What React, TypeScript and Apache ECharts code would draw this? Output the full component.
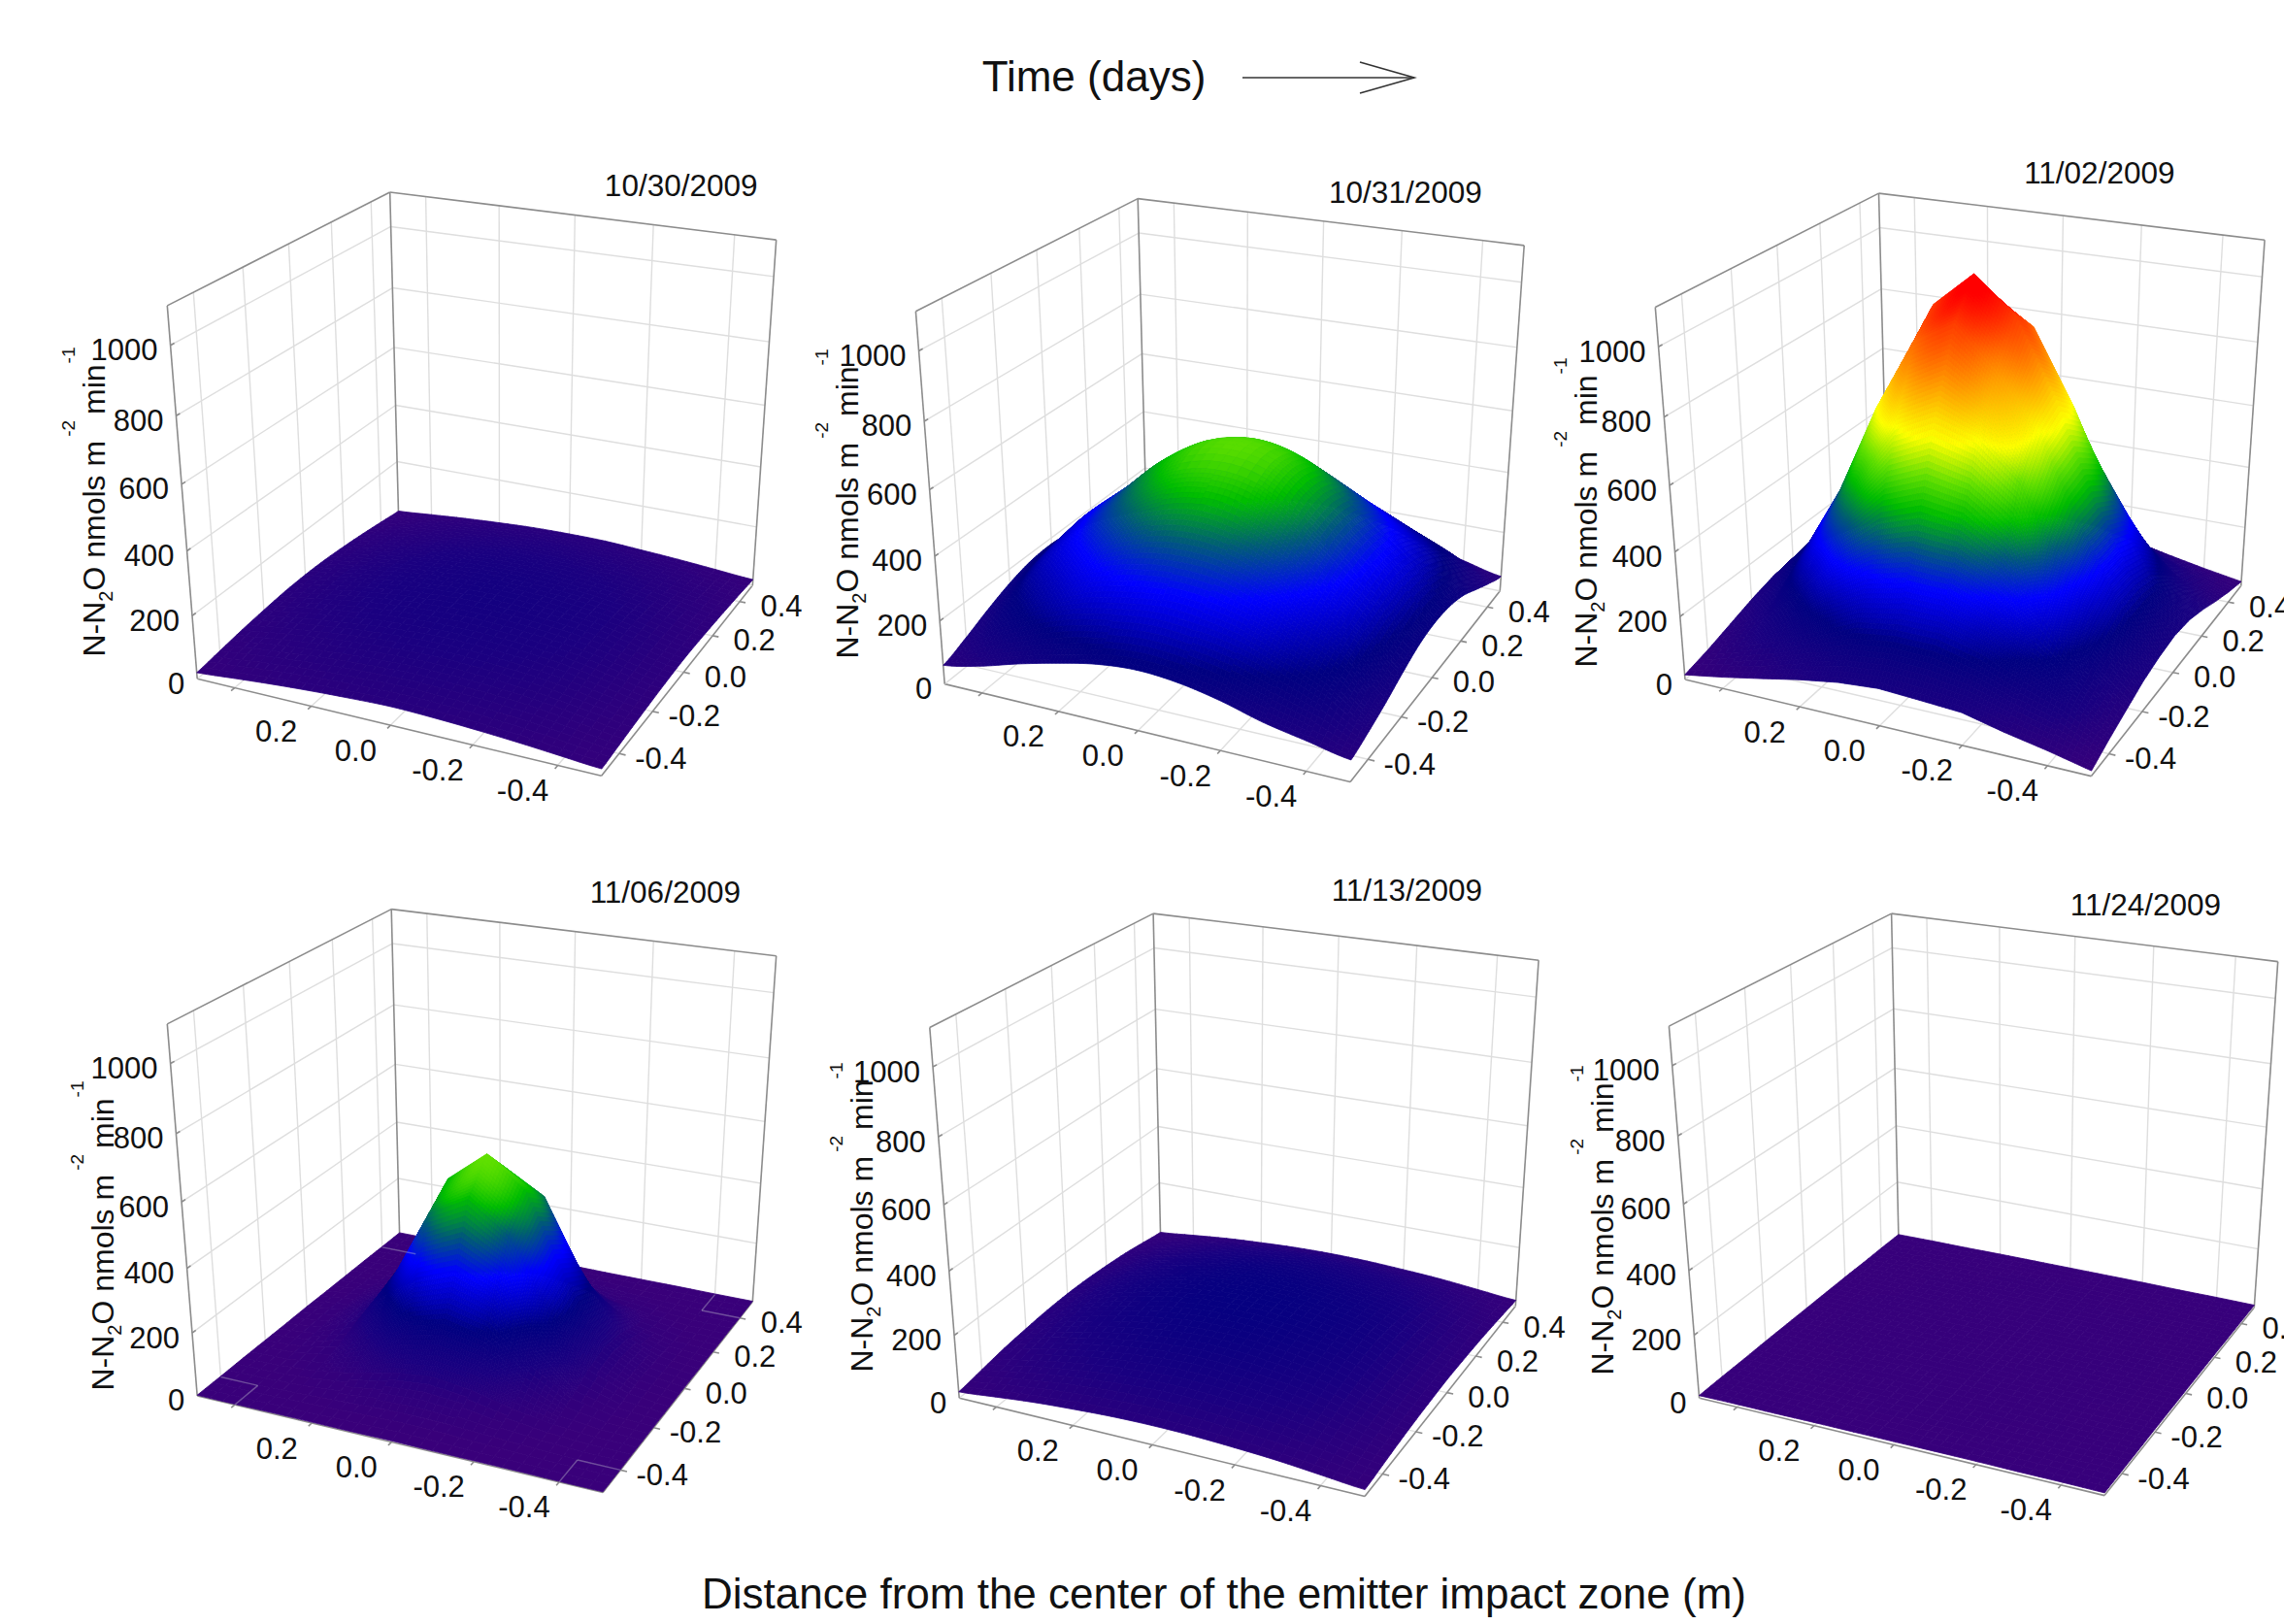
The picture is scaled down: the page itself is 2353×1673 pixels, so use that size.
import React, { useEffect, useRef } from "react";
import * as echarts from "echarts";

// ---------- data ----------
const dates = ["10/30/2009", "10/31/2009", "11/02/2009", "11/06/2009", "11/13/2009", "11/24/2009"];
const xTicks = [0.4, 0.2, 0.0, -0.2, -0.4];
const xLabels = [0.2, 0.0, -0.2, -0.4];
const yTicks = [-0.4, -0.2, 0.0, 0.2, 0.4];
const zTicks = [0, 200, 400, 600, 800, 1000];
const zMax = 1110;
// rows: x = 0.5 -> -0.5, columns: y = -0.5 -> 0.5, step 0.1
const surface1 = [
  [20, 30, 40, 48, 54, 56, 54, 48, 40, 30, 20],
  [30, 44, 56, 66, 72, 75, 72, 66, 56, 44, 30],
  [40, 56, 70, 82, 90, 93, 90, 82, 70, 56, 40],
  [48, 66, 82, 96, 105, 108, 105, 96, 82, 66, 48],
  [54, 72, 90, 105, 114, 118, 114, 105, 90, 72, 54],
  [58, 76, 94, 109, 119, 123, 119, 108, 93, 75, 56],
  [55, 73, 91, 106, 115, 119, 115, 105, 90, 72, 55],
  [49, 67, 83, 97, 106, 109, 106, 96, 82, 66, 48],
  [41, 57, 71, 83, 91, 94, 91, 82, 70, 56, 40],
  [31, 42, 52, 60, 66, 68, 66, 60, 52, 42, 30],
  [21, 27, 33, 38, 42, 44, 42, 38, 33, 27, 20],
];
const surface2 = [
  [60, 90, 125, 155, 175, 180, 170, 150, 120, 85, 55],
  [85, 160, 215, 260, 285, 300, 290, 265, 220, 165, 80],
  [120, 215, 280, 345, 385, 400, 390, 350, 285, 220, 115],
  [150, 260, 345, 420, 480, 510, 485, 425, 350, 265, 150],
  [175, 285, 385, 480, 555, 585, 560, 485, 390, 290, 175],
  [185, 300, 400, 505, 580, 610, 585, 510, 405, 300, 185],
  [175, 290, 390, 485, 560, 585, 560, 485, 390, 290, 175],
  [150, 265, 345, 425, 485, 505, 485, 425, 345, 260, 150],
  [115, 215, 280, 345, 385, 400, 385, 345, 280, 210, 110],
  [90, 160, 215, 255, 280, 295, 285, 255, 210, 155, 80],
  [65, 85, 110, 140, 165, 175, 170, 150, 115, 80, 50],
];
const surface3 = [
  [15, 35, 60, 85, 105, 115, 108, 85, 62, 36, 16],
  [36, 75, 115, 175, 230, 250, 232, 178, 118, 76, 38],
  [60, 118, 215, 350, 440, 480, 445, 352, 218, 120, 62],
  [85, 175, 350, 540, 710, 770, 715, 545, 352, 178, 85],
  [105, 230, 440, 710, 930, 1000, 935, 712, 442, 232, 108],
  [115, 250, 480, 770, 1000, 1105, 1005, 775, 485, 252, 118],
  [108, 250, 470, 730, 880, 1003, 930, 710, 440, 228, 112],
  [100, 215, 400, 620, 730, 772, 710, 540, 350, 175, 85],
  [70, 160, 290, 400, 470, 482, 440, 350, 215, 118, 60],
  [45, 115, 160, 215, 250, 252, 230, 175, 115, 75, 36],
  [16, 45, 70, 95, 110, 118, 110, 88, 60, 35, 15],
];
const surface4 = [
  [2, 2, 3, 3, 3, 4, 3, 3, 3, 2, 2],
  [2, 2, 5, 10, 17, 20, 17, 10, 5, 2, 2],
  [3, 5, 15, 35, 65, 80, 65, 35, 15, 5, 3],
  [3, 10, 35, 110, 230, 270, 230, 110, 35, 10, 3],
  [3, 17, 65, 230, 460, 520, 430, 230, 65, 17, 3],
  [4, 20, 80, 270, 525, 618, 530, 270, 80, 20, 4],
  [3, 17, 65, 235, 435, 520, 460, 230, 65, 17, 3],
  [3, 10, 35, 110, 235, 275, 230, 110, 35, 10, 3],
  [3, 5, 15, 35, 65, 80, 65, 35, 15, 5, 3],
  [2, 2, 5, 10, 17, 20, 17, 10, 5, 2, 2],
  [2, 2, 3, 3, 3, 4, 3, 3, 3, 2, 2],
];
const surface5 = [
  [20, 32, 44, 52, 58, 60, 58, 52, 44, 32, 20],
  [32, 52, 70, 84, 93, 97, 93, 84, 70, 52, 32],
  [44, 70, 92, 112, 124, 130, 124, 112, 92, 70, 44],
  [52, 84, 112, 134, 150, 156, 150, 134, 112, 84, 52],
  [58, 93, 124, 150, 166, 172, 166, 150, 124, 93, 58],
  [60, 97, 130, 156, 172, 178, 172, 156, 130, 97, 60],
  [58, 93, 124, 150, 166, 172, 166, 150, 124, 93, 58],
  [52, 84, 112, 134, 150, 156, 150, 134, 112, 84, 52],
  [44, 70, 92, 112, 124, 130, 124, 112, 92, 70, 44],
  [32, 48, 62, 72, 78, 80, 78, 72, 62, 48, 32],
  [20, 27, 34, 39, 42, 44, 42, 39, 34, 27, 20],
];
const surface6 = [
  [8, 9, 9, 10, 10, 10, 10, 10, 9, 9, 8],
  [9, 9, 10, 10, 11, 11, 11, 10, 10, 9, 9],
  [9, 10, 11, 11, 12, 12, 12, 11, 11, 10, 9],
  [10, 10, 11, 12, 13, 13, 13, 12, 11, 10, 10],
  [10, 11, 12, 13, 13, 14, 13, 13, 12, 11, 10],
  [10, 11, 12, 13, 14, 14, 14, 13, 12, 11, 10],
  [10, 11, 12, 13, 13, 14, 13, 13, 12, 11, 10],
  [10, 10, 11, 12, 13, 13, 13, 12, 11, 10, 10],
  [9, 10, 11, 11, 12, 12, 12, 11, 11, 10, 9],
  [9, 9, 10, 10, 11, 11, 11, 10, 10, 9, 9],
  [8, 9, 9, 10, 10, 10, 10, 10, 9, 9, 8],
];
const surfaces = [surface1, surface2, surface3, surface4, surface5, surface6];
const colorStops: [number, number, number, number][] = [
  [0, 58, 0, 122],
  [100, 26, 0, 128],
  [200, 0, 0, 128],
  [340, 0, 0, 255],
  [440, 0, 90, 120],
  [530, 0, 190, 0],
  [620, 100, 225, 0],
  [720, 255, 255, 0],
  [900, 255, 128, 0],
  [1090, 255, 0, 0],
];

// ---------- layout ----------
type Pt = [number, number];
interface Box { L: Pt; F: Pt; R: Pt; B: Pt; tL: Pt; tR: Pt; tB: Pt; title: Pt; yLabel: Pt; smooth: boolean; }
const boxes: Box[] = [
  { L: [203.2, 699.3], F: [619.6, 799.3], R: [775.3, 603], B: [410.6, 532], tL: [172.3, 314.9], tR: [799.7, 247.1], tB: [401.7, 198], title: [701.7, 191], yLabel: [97, 517], smooth: true },
  { L: [973.2, 704.6], F: [1391.1, 805.5], R: [1545.3, 608.7], B: [1181.2, 538.6], tL: [943.4, 320.7], tR: [1570.2, 252.9], tB: [1172.2, 204.6], title: [1447.9, 198], yLabel: [873, 519], smooth: true },
  { L: [1736, 700], F: [2154.5, 799.6], R: [2308.7, 603.6], B: [1944.3, 533], tL: [1705.3, 316.5], tR: [2333.1, 247.3], tB: [1935.5, 199.1], title: [2162.8, 177.7], yLabel: [1634, 528], smooth: false },
  { L: [203.2, 1437.9], F: [621.1, 1537.5], R: [775.3, 1341.1], B: [411.6, 1270.5], tL: [172.3, 1054.9], tR: [799.7, 984.8], tB: [403.2, 936.6], title: [685.3, 918.8], yLabel: [106, 1273], smooth: false },
  { L: [988.2, 1440.2], F: [1406, 1541.5], R: [1561.3, 1345.5], B: [1195.6, 1275], tL: [957.8, 1058.5], tR: [1585.1, 989.3], tB: [1188.1, 941.1], title: [1449.3, 917], yLabel: [888, 1254], smooth: true },
  { L: [1750.6, 1440.2], F: [2168.1, 1540.6], R: [2322.3, 1346.9], B: [1955.9, 1274], tL: [1719.4, 1057.1], tR: [2346.7, 990.6], tB: [1948.6, 941.1], title: [2210.4, 932], yLabel: [1651, 1257], smooth: true },
];
const FONT = "'Liberation Sans', Arial, sans-serif";
const FRAME = "#8c8c8c";
const GRID = "#dedede";
const Z_WARP = 0.08;

// ---------- projection ----------
function homography(p0: Pt, p1: Pt, p2: Pt, p3: Pt) {
  const dx1 = p1[0] - p2[0], dx2 = p3[0] - p2[0], sx = p0[0] - p1[0] + p2[0] - p3[0];
  const dy1 = p1[1] - p2[1], dy2 = p3[1] - p2[1], sy = p0[1] - p1[1] + p2[1] - p3[1];
  const den = dx1 * dy2 - dx2 * dy1;
  const g = (sx * dy2 - dx2 * sy) / den, h = (dx1 * sy - sx * dy1) / den;
  const a = p1[0] - p0[0] + g * p1[0], b = p3[0] - p0[0] + h * p3[0], c = p0[0];
  const d = p1[1] - p0[1] + g * p1[1], e = p3[1] - p0[1] + h * p3[1], f = p0[1];
  return (u: number, v: number): Pt => {
    const w = g * u + h * v + 1;
    return [(a * u + b * v + c) / w, (d * u + e * v + f) / w];
  };
}
function meet(a: Pt, b: Pt, c: Pt, d: Pt): Pt {
  const den = (a[0] - b[0]) * (c[1] - d[1]) - (a[1] - b[1]) * (c[0] - d[0]);
  const s = a[0] * b[1] - a[1] * b[0], t = c[0] * d[1] - c[1] * d[0];
  return [(s * (c[0] - d[0]) - (a[0] - b[0]) * t) / den, (s * (c[1] - d[1]) - (a[1] - b[1]) * t) / den];
}
function makeProjector(b: Box) {
  const v1 = meet(b.L, b.F, b.B, b.R);
  const v2 = meet(b.F, b.R, b.L, b.B);
  const tF = meet(b.tL, v1, b.tR, v2);
  const floor = homography(b.L, b.F, b.R, b.B);
  const top = homography(b.tL, tF, b.tR, b.tB);
  return (x: number, y: number, z: number): Pt => {
    const u = 0.5 - x, v = y + 0.5, l = z / zMax;
    const w = l / (1 + Z_WARP * (1 - l));
    const p = floor(u, v), q = top(u, v);
    return [p[0] + (q[0] - p[0]) * w, p[1] + (q[1] - p[1]) * w];
  };
}
function colorOf(z: number): string {
  let i = 0;
  while (i < colorStops.length - 2 && z > colorStops[i + 1][0]) i++;
  const a = colorStops[i], b = colorStops[i + 1];
  const t = Math.max(0, Math.min(1, (z - a[0]) / (b[0] - a[0])));
  const ch = (k: number) => Math.round(a[k] + (b[k] - a[k]) * t);
  return `rgb(${ch(1)},${ch(2)},${ch(3)})`;
}
// smooth reading of the estimated grid, used between its nodes
function cr(p0: number, p1: number, p2: number, p3: number, t: number) {
  return 0.5 * (2 * p1 + (p2 - p0) * t + (2 * p0 - 5 * p1 + 4 * p2 - p3) * t * t + (3 * p1 - p0 - 3 * p2 + p3) * t * t * t);
}
function smoothAt(grid: number[][], r: number, c: number) {
  const i = Math.min(9, Math.floor(r)), j = Math.min(9, Math.floor(c));
  const s = r - i, t = c - j;
  const cl = (n: number) => Math.max(0, Math.min(10, n));
  const rows = [-1, 0, 1, 2].map((d) => {
    const row = grid[cl(i + d)];
    return cr(row[cl(j - 1)], row[j], row[j + 1], row[cl(j + 2)], t);
  });
  return Math.max(0, cr(rows[0], rows[1], rows[2], rows[3], s));
}

// ---------- option ----------
function buildOption() {
  const series: any[] = [];
  const graphic: any[] = [];
  const txt = (text: string, x: number, y: number, size: number, align = "center") => ({
    type: "text", x, y, z: 100, silent: true,
    style: { text, fontSize: size, fontFamily: FONT, fill: "#111", align, verticalAlign: "middle" },
  });
  boxes.forEach((box, p) => {
    const proj = makeProjector(box);
    const grid = surfaces[p];
    const lines: number[][] = [];
    xTicks.forEach((t) => {
      lines.push([t, 0.5, 0, t, 0.5, zMax, 0]);
      lines.push([t, -0.5, 0, t, 0.5, 0, 0]);
      lines.push([t, -0.5, 0, t, -0.515, 0, 1]);
    });
    yTicks.forEach((t) => {
      lines.push([0.5, t, 0, 0.5, t, zMax, 0]);
      lines.push([0.5, t, 0, -0.5, t, 0, 0]);
      lines.push([-0.5, t, 0, -0.515, t, 0, 1]);
    });
    zTicks.slice(1).forEach((t) => {
      lines.push([0.5, -0.5, t, 0.5, 0.5, t, 0]);
      lines.push([0.5, 0.5, t, -0.5, 0.5, t, 0]);
      lines.push([0.5, -0.5, t, 0.5, -0.485, t, 1]);
    });
    lines.push([0.5, -0.5, 0, -0.5, -0.5, 0, 1]);
    lines.push([-0.5, -0.5, 0, -0.5, 0.5, 0, 1]);
    lines.push([0.5, -0.5, 0, 0.5, 0.5, 0, 0]);
    lines.push([0.5, 0.5, 0, -0.5, 0.5, 0, 0]);
    lines.push([0.5, -0.5, 0, 0.5, -0.5, zMax, 1]);
    lines.push([0.5, 0.5, 0, 0.5, 0.5, zMax, 1]);
    lines.push([-0.5, 0.5, 0, -0.5, 0.5, zMax, 1]);
    lines.push([0.5, -0.5, zMax, 0.5, 0.5, zMax, 1]);
    lines.push([0.5, 0.5, zMax, -0.5, 0.5, zMax, 1]);
    const lineItem = (api: any, color?: string) => {
      const a = proj(api.value(0), api.value(1), api.value(2));
      const b = proj(api.value(3), api.value(4), api.value(5));
      const kind = api.value(6);
      return {
        type: "line",
        shape: { x1: a[0], y1: a[1], x2: b[0], y2: b[1] },
        style: { stroke: color || (kind ? FRAME : GRID), lineWidth: kind ? 1.6 : 1.4, fill: "none" },
      };
    };
    series.push({
      type: "custom", coordinateSystem: "none", name: `frame ${dates[p]}`, z: 2, silent: true,
      data: lines, renderItem: (_: any, api: any) => lineItem(api),
    });
    const cells: number[][] = [];
    for (let i = 0; i < 10; i++) {
      for (let j = 9; j >= 0; j--) {
        cells.push([i, j, grid[i][j], grid[i][j + 1], grid[i + 1][j + 1], grid[i + 1][j]]);
      }
    }
    series.push({
      type: "custom", coordinateSystem: "none", name: dates[p], z: 3, silent: true,
      data: cells,
      renderItem: (_: any, api: any) => {
        const i = api.value(0), j = api.value(1);
        const z00 = api.value(2), z01 = api.value(3), z11 = api.value(4), z10 = api.value(5);
        const linear = (s: number, t: number) =>
          z00 * (1 - s) * (1 - t) + z01 * (1 - s) * t + z11 * s * t + z10 * s * (1 - t);
        const smooth = (s: number, t: number) => smoothAt(grid, i + s, j + t);
        const height = box.smooth ? smooth : linear;
        const range = Math.max(z00, z01, z11, z10) - Math.min(z00, z01, z11, z10);
        const n = Math.max(box.smooth ? 4 : 3, Math.min(18, Math.ceil(range / 14)));
        const pt = (s: number, t: number) => proj(0.5 - (i + s) * 0.1, -0.5 + (j + t) * 0.1, height(s, t));
        const children: any[] = [];
        for (let a = 0; a < n; a++) {
          for (let b = n - 1; b >= 0; b--) {
            const s0 = a / n, s1 = (a + 1) / n, t0 = b / n, t1 = (b + 1) / n;
            const c = colorOf(smooth((s0 + s1) / 2, (t0 + t1) / 2));
            children.push({
              type: "polygon",
              shape: { points: [pt(s0, t0), pt(s0, t1), pt(s1, t1), pt(s1, t0)] },
              style: { fill: c, stroke: c, lineWidth: 0.8 },
            });
          }
        }
        return { type: "group", children };
      },
    });
    if (p === 3) {
      const bits = [
        [0.4, -0.5, 0, 0.4, -0.4, 0, 0], [0.5, -0.4, 0, 0.4, -0.4, 0, 0],
        [-0.4, -0.5, 0, -0.4, -0.4, 0, 0], [-0.5, -0.4, 0, -0.4, -0.4, 0, 0],
        [-0.4, 0.5, 0, -0.4, 0.4, 0, 0], [-0.5, 0.4, 0, -0.4, 0.4, 0, 0],
        [0.5, 0.4, 0, 0.4, 0.4, 0, 0],
      ];
      series.push({
        type: "custom", coordinateSystem: "none", name: "floor pieces", z: 4, silent: true,
        data: bits, renderItem: (_: any, api: any) => lineItem(api, "rgba(190,190,205,0.4)"),
      });
    }
    graphic.push(txt(dates[p], box.title[0], box.title[1], 31.5));
    zTicks.forEach((t) => {
      const q = proj(0.5, -0.5, t);
      graphic.push(txt(String(t), q[0] - 13, q[1] + 5, 31, "right"));
    });
    xLabels.forEach((t) => {
      const q = proj(t, -0.5, 0);
      graphic.push(txt(t.toFixed(1), q[0] - 36, q[1] + 26, 31));
    });
    yTicks.forEach((t) => {
      const q = proj(-0.5, t, 0);
      graphic.push(txt(t.toFixed(1), q[0] + 43, q[1] + 5, 31));
    });
    const mainStyle = { fontSize: 32, lineHeight: 72, verticalAlign: "middle", fontFamily: FONT, fill: "#111" };
    graphic.push({
      type: "text", x: box.yLabel[0], y: box.yLabel[1], rotation: Math.PI / 2, z: 100, silent: true,
      style: {
        text: "{m|N-N}{s|2}{m|O nmols m}{a|-2}{m|min}{b|-1}",
        align: "center", verticalAlign: "middle", fontFamily: FONT, fill: "#111",
        rich: {
          m: mainStyle,
          s: { fontSize: 20, lineHeight: 72, verticalAlign: "bottom", padding: [0, 0, 14, 0], fontFamily: FONT, fill: "#111" },
          a: { fontSize: 19, lineHeight: 72, verticalAlign: "top", padding: [0, 6, 0, 4], fontFamily: FONT, fill: "#111" },
          b: { fontSize: 19, lineHeight: 72, verticalAlign: "top", padding: [0, 0, 0, 1], fontFamily: FONT, fill: "#111" },
        },
      },
    });
  });
  graphic.push(txt("Time (days)", 1127, 78, 44));
  graphic.push(txt("Distance from the center of the emitter impact zone (m)", 1261, 1641, 44));
  graphic.push({
    type: "line", z: 100, silent: true, shape: { x1: 1280, y1: 80, x2: 1457, y2: 80 },
    style: { stroke: "#333", lineWidth: 1.6 },
  });
  graphic.push({
    type: "polyline", z: 100, silent: true, shape: { points: [[1401, 64], [1457, 80], [1401, 96]] },
    style: { stroke: "#333", lineWidth: 1.6, fill: "none" },
  });
  return { animation: false, backgroundColor: "#ffffff", series, graphic: { elements: graphic } };
}

export default function App() {
  const ref = useRef<HTMLDivElement>(null);
  useEffect(() => {
    document.body.style.margin = "0";
    const chart = echarts.init(ref.current!, undefined, { renderer: "svg" });
    chart.setOption(buildOption() as any);
    return () => chart.dispose();
  }, []);
  return <div ref={ref} style={{ width: 2353, height: 1673 }} />;
}
